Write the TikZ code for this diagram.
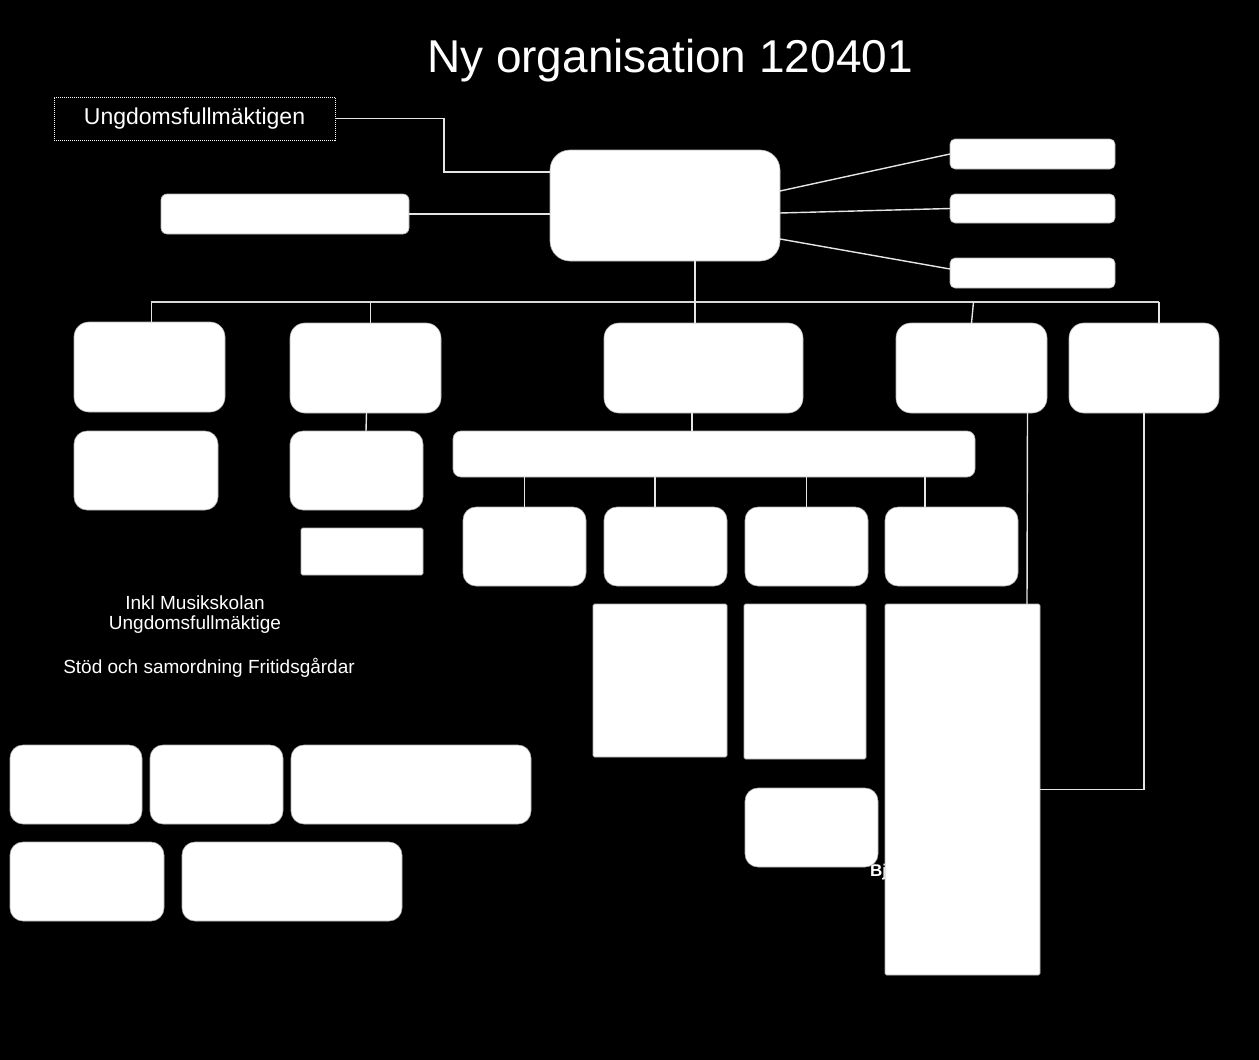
\documentclass[tikz,border=0pt]{standalone}
\usepackage{fontspec}
\setmainfont{Liberation Sans}
\begin{document}
\begin{tikzpicture}[x=1pt,y=-1pt,
  rbox/.style={fill=white, draw=gray!60, line width=0.6pt, rounded corners=13pt, inner sep=0pt, outer sep=0pt, anchor=north west},
  sbox/.style={rbox, rounded corners=6pt},
  rectbox/.style={rbox, rounded corners=1.5pt},
  conn/.style={draw=white!80!gray, line width=1.4pt},
  lbl/.style={text=white, font=\fontsize{19}{22}\selectfont}]
\fill[black] (0,0) rectangle (1259,1060);
\useasboundingbox (0,0) rectangle (1259,1060);

% title
\node[text=white, font=\fontsize{46}{52}\selectfont] (title) at (670,61) {Ny organisation 120401};

% Ungdomsfullmäktigen
\node[draw=white, densely dotted, line width=1pt, minimum width=281pt, minimum height=43pt, inner sep=0pt, outer sep=0pt, anchor=north west, text=white, font=\fontsize{23}{26}\selectfont] (ung) at (54,97) {Ungdomsfullmäktigen};

% free texts
\node[lbl] (t1) at (195,603) {Inkl Musikskolan};
\node[lbl] (t2) at (195,625) {Ungdomsfullmäktige};
\node[lbl] (t3) at (209,668) {Stöd och samordning Fritidsgårdar};
\node[text=white, font=\bfseries\fontsize{17}{19}\selectfont, anchor=west, inner sep=0pt] (bj) at (870,872) {Bj};

% top
\node[rbox, rounded corners=20pt, minimum width=230pt, minimum height=111pt] (main) at (550,150) {};
\node[sbox, minimum width=248pt, minimum height=40pt] (lbox) at (161,194) {};
\node[sbox, rounded corners=5pt, minimum width=165pt, minimum height=30pt] (r1) at (950,139) {};
\node[sbox, rounded corners=5pt, minimum width=165pt, minimum height=29pt] (r2) at (950,194) {};
\node[sbox, rounded corners=5pt, minimum width=165pt, minimum height=30pt] (r3) at (950,258) {};

% level 2
\node[rbox, rounded corners=15pt, minimum width=151pt, minimum height=90pt] (A) at (74,322) {};
\node[rbox, rounded corners=15pt, minimum width=151pt, minimum height=90pt] (B) at (290,323) {};
\node[rbox, rounded corners=15pt, minimum width=199pt, minimum height=90pt] (C) at (604,323) {};
\node[rbox, rounded corners=15pt, minimum width=151pt, minimum height=90pt] (D) at (896,323) {};
\node[rbox, rounded corners=15pt, minimum width=150pt, minimum height=90pt] (E) at (1069,323) {};

% level 3
\node[rbox, minimum width=144pt, minimum height=79pt] (A2) at (74,431) {};
\node[rbox, minimum width=133pt, minimum height=79pt] (B2) at (290,431) {};
\node[rectbox, minimum width=122pt, minimum height=47pt] (B3) at (301,528) {};
\node[sbox, rounded corners=8pt, minimum width=522pt, minimum height=46pt] (W) at (453,431) {};

% level 4
\node[rbox, minimum width=123pt, minimum height=79pt] (w1) at (463,507) {};
\node[rbox, minimum width=123pt, minimum height=79pt] (w2) at (604,507) {};
\node[rbox, minimum width=123pt, minimum height=79pt] (w3) at (745,507) {};
\node[rbox, minimum width=133pt, minimum height=79pt] (w4) at (885,507) {};

% tall rectangles
\node[rectbox, minimum width=134pt, minimum height=153pt] (T1) at (593,604) {};
\node[rectbox, minimum width=122pt, minimum height=155pt] (T2) at (744,604) {};
\node[rectbox, minimum width=155pt, minimum height=371pt] (T3) at (885,604) {};
\node[rbox, minimum width=133pt, minimum height=79pt] (F) at (745,788) {};

% bottom-left group
\node[rbox, minimum width=132pt, minimum height=79pt] (g1) at (10,745) {};
\node[rbox, minimum width=133pt, minimum height=79pt] (g2) at (150,745) {};
\node[rbox, minimum width=240pt, minimum height=79pt] (g3) at (291,745) {};
\node[rbox, minimum width=154pt, minimum height=79pt] (g4) at (10,842) {};
\node[rbox, minimum width=220pt, minimum height=79pt] (g5) at (182,842) {};

% connectors
\draw[conn] (ung.east) -- ++(109,0) |- ([yshift=33.5pt]main.west);
\draw[conn] (lbox.east) -- (lbox.east -| main.west);
\draw[conn] ([yshift=14.5pt]main.east) -- (r1.west);
\draw[conn] ([yshift=-7.5pt]main.east) -- (r2.west);
\draw[conn] ([yshift=-33.5pt]main.east) -- ([yshift=4pt]r3.west);

\coordinate (busL) at (151,302);
\coordinate (busR) at (1159,302);
\draw[conn, draw=white!70!gray] (busL) -- (busR);
\draw[conn] ([xshift=30pt]main.south) -- ([xshift=-8.5pt]C.north);
\draw[conn] ([xshift=2pt]A.north) -- ++(0,-20);
\draw[conn] ([xshift=5pt]B.north) -- ++(0,-21);
\draw[conn] ([xshift=0pt]D.north) -- ++(2,-21);
\draw[conn] ([xshift=15pt]E.north) -- ++(0,-21);

\draw[conn] ([xshift=1pt]B.south) -- ([xshift=9.5pt]B2.north);
\draw[conn] ([xshift=-11.5pt]C.south) -- ([xshift=-22pt]W.north);
\draw[conn] (w1.north) -- ++(0,-30);
\draw[conn] ([xshift=-10.5pt]w2.north) -- ++(0,-30);
\draw[conn] (w3.north) -- ++(0,-30);
\draw[conn] ([xshift=-26.5pt]w4.north) -- ++(0,-30);

\draw[conn] ([xshift=56pt]D.south) -- ([xshift=64.5pt]T3.north);
\draw[conn] (E.south) |- (T3.east);
\end{tikzpicture}
\end{document}
